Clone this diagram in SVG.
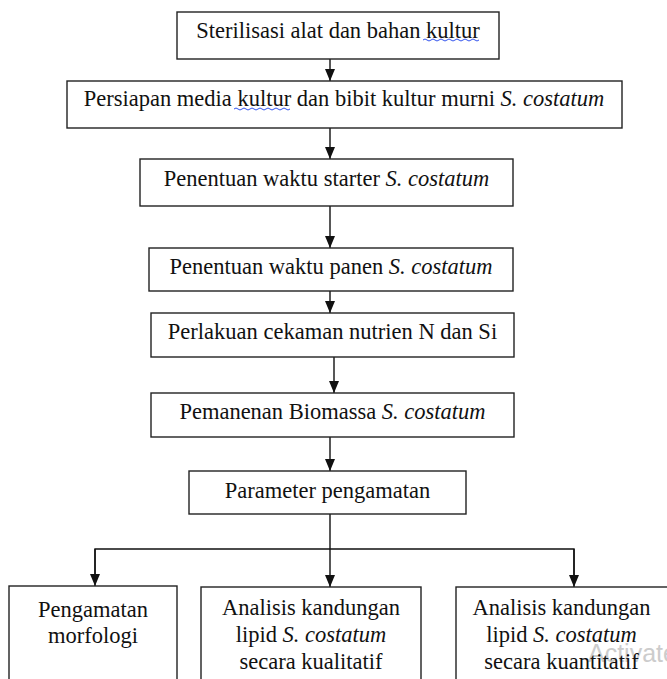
<svg xmlns="http://www.w3.org/2000/svg" width="667" height="679" viewBox="0 0 667 679">
<style>
  .box { fill: #ffffff; stroke: #222222; stroke-width: 1.4; }
  .t { font-family: "Liberation Serif", "Times New Roman", serif; font-size: 22.5px; fill: #111111; text-anchor: middle; }
  .i { font-style: italic; }
  .c { fill: none; stroke: #111111; stroke-width: 1.4; }
  .sq { fill: none; stroke: #3355ee; stroke-width: 1; }
  .wm { font-family: "Liberation Sans", Arial, sans-serif; font-size: 25px; fill: #cccccc; }
</style>
<defs>
  <marker id="ah" markerUnits="userSpaceOnUse" markerWidth="12" markerHeight="12" viewBox="0 0 12 10" refX="12" refY="5" orient="auto">
    <path d="M0,0 L12,5 L0,10 Z" fill="#111111"/>
  </marker>
</defs>
<rect width="667" height="679" fill="#ffffff"/>
<text class="wm" x="588" y="662">Activate</text>

<g id="connectors">
  <line class="c" x1="330" y1="59" x2="330" y2="81" marker-end="url(#ah)"/>
  <line class="c" x1="330" y1="128" x2="330" y2="159" marker-end="url(#ah)"/>
  <line class="c" x1="330" y1="206" x2="330" y2="248" marker-end="url(#ah)"/>
  <line class="c" x1="330" y1="291" x2="330" y2="313" marker-end="url(#ah)"/>
  <line class="c" x1="334" y1="357" x2="334" y2="393" marker-end="url(#ah)"/>
  <line class="c" x1="330" y1="437" x2="330" y2="471" marker-end="url(#ah)"/>
  <line class="c" x1="330" y1="514" x2="330" y2="587" marker-end="url(#ah)"/>
  <polyline class="c" points="95,575 95,549 574,549 574,575"/>
  <line class="c" x1="95" y1="549" x2="95" y2="586" marker-end="url(#ah)"/>
  <line class="c" x1="574" y1="549" x2="574" y2="587" marker-end="url(#ah)"/>
</g>

<g id="n1">
  <rect class="box" x="177" y="12" width="322" height="47"/>
  <text class="t" x="338" y="37.5">Sterilisasi alat dan bahan kultur</text>
  <path class="sq" d="M423,40 q2,-2 4,0 t4,0 t4,0 t4,0 t4,0 t4,0 t4,0 t4,0 t4,0 t4,0 t4,0 t4,0 t4,0 t4,0"/>
</g>
<g id="n2">
  <rect class="box" x="67" y="81" width="555" height="47"/>
  <text class="t" x="344" y="106">Persiapan media kultur dan bibit kultur murni <tspan class="i">S. costatum</tspan></text>
  <path class="sq" d="M234,109 q2,-2 4,0 t4,0 t4,0 t4,0 t4,0 t4,0 t4,0 t4,0 t4,0 t4,0 t4,0 t4,0 t4,0 t4,0"/>
</g>
<g id="n3">
  <rect class="box" x="140" y="159" width="373" height="47"/>
  <text class="t" x="326.5" y="186">Penentuan waktu starter <tspan class="i">S. costatum</tspan></text>
</g>
<g id="n4">
  <rect class="box" x="149" y="248" width="364" height="43"/>
  <text class="t" x="331" y="274">Penentuan waktu panen <tspan class="i">S. costatum</tspan></text>
</g>
<g id="n5">
  <rect class="box" x="151" y="313" width="363" height="44"/>
  <text class="t" x="332.5" y="338.5">Perlakuan cekaman nutrien N dan Si</text>
</g>
<g id="n6">
  <rect class="box" x="151" y="393" width="363" height="44"/>
  <text class="t" x="332.5" y="419">Pemanenan Biomassa <tspan class="i">S. costatum</tspan></text>
</g>
<g id="n7">
  <rect class="box" x="189" y="471" width="277" height="43"/>
  <text class="t" x="327.5" y="498">Parameter pengamatan</text>
</g>
<g id="n8">
  <rect class="box" x="9" y="586" width="168" height="110"/>
  <text class="t" x="93" y="617">Pengamatan</text>
  <text class="t" x="93" y="643">morfologi</text>
</g>
<g id="n9">
  <rect class="box" x="201" y="587" width="220" height="110"/>
  <text class="t" x="311" y="614.5">Analisis kandungan</text>
  <text class="t" x="311" y="641.5">lipid <tspan class="i">S. costatum</tspan></text>
  <text class="t" x="311" y="668.5">secara kualitatif</text>
</g>
<g id="n10">
  <rect class="box" x="456" y="587" width="213" height="110" fill-opacity="0"/>
  <text class="t" x="561.5" y="614.5">Analisis kandungan</text>
  <text class="t" x="561.5" y="641.5">lipid <tspan class="i">S. costatum</tspan></text>
  <text class="t" x="561.5" y="668.5">secara kuantitatif</text>
</g>
</svg>
